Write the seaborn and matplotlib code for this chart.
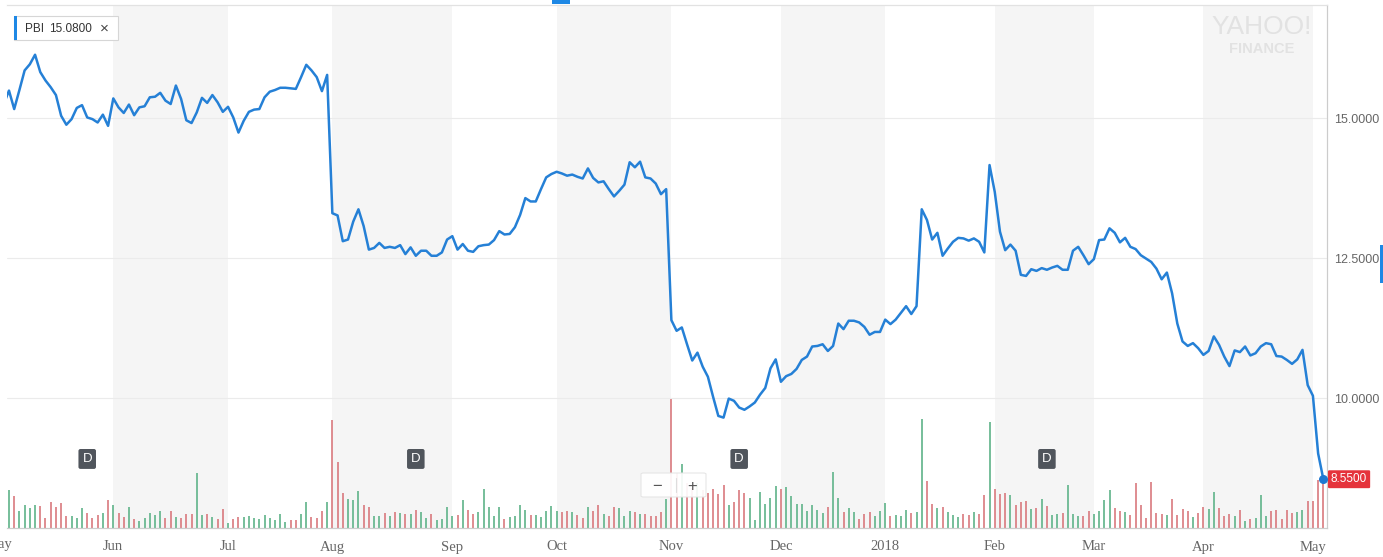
import numpy as np
import pandas as pd
import matplotlib
matplotlib.use("Agg")
import matplotlib.pyplot as plt
import matplotlib.transforms as mtransforms
from matplotlib.patches import Rectangle, FancyBboxPatch
import seaborn as sns

# --- daily closes, PBI, May 2017 -> May 2018 ---
may17 = [15.25, 15.49, 15.16, 15.50, 15.85, 15.96, 16.13, 15.82, 15.67, 15.55, 15.41,
         15.04, 14.88, 14.98, 15.18, 15.23, 15.01, 14.98, 14.92, 15.06, 14.86]
jun17 = [15.35, 15.19, 15.09, 15.24, 15.05, 15.19, 15.21, 15.37, 15.38, 15.45, 15.31,
         15.25, 15.58, 15.34, 14.96, 14.91, 15.10, 15.36, 15.27, 15.41, 15.28, 15.11]
jul17 = [15.20, 15.01, 14.74, 14.95, 15.11, 15.15, 15.16, 15.37, 15.47, 15.50,
         15.54, 15.54, 15.53, 15.52, 15.73, 15.95, 15.85, 15.73, 15.48, 15.77]
aug17 = [13.30, 13.26, 12.80, 12.83, 13.15, 13.37, 13.07, 12.65, 12.68, 12.77, 12.68, 12.70,
         12.68, 12.73, 12.57, 12.69, 12.54, 12.63, 12.63, 12.54, 12.54, 12.60, 12.83]
sep17 = [12.89, 12.65, 12.75, 12.63, 12.61, 12.71, 12.73, 12.74, 12.82, 12.98,
         12.92, 12.93, 13.05, 13.27, 13.57, 13.51, 13.51, 13.73, 13.94, 14.00]
oct17 = [14.04, 14.01, 13.97, 13.99, 13.95, 13.92, 14.10, 13.93, 13.85, 13.87, 13.73,
         13.60, 13.70, 13.81, 14.21, 14.12, 14.22, 13.94, 13.92, 13.83, 13.64, 13.73]
nov17 = [11.39, 11.20, 11.26, 10.96, 10.67, 10.81, 10.56, 10.38, 10.02, 9.68, 9.65,
         9.99, 9.95, 9.83, 9.79, 9.85, 9.92, 10.06, 10.18, 10.53, 10.69]
dec17 = [10.29, 10.39, 10.43, 10.52, 10.68, 10.74, 10.92, 10.93, 10.96, 10.84,
         10.93, 11.33, 11.23, 11.38, 11.38, 11.35, 11.27, 11.13, 11.18, 11.18]
jan18 = [11.40, 11.32, 11.40, 11.52, 11.64, 11.50, 11.64, 13.37, 13.18, 12.83, 12.95,
         12.54, 12.67, 12.79, 12.86, 12.85, 12.81, 12.85, 12.79, 12.60, 14.16]
feb18 = [13.68, 12.97, 12.64, 12.74, 12.63, 12.20, 12.18, 12.30, 12.27, 12.32,
         12.29, 12.33, 12.36, 12.29, 12.29, 12.63, 12.70, 12.55, 12.39]
mar18 = [12.48, 12.82, 12.83, 13.03, 12.95, 12.78, 12.86, 12.70, 12.66, 12.55, 12.49,
         12.43, 12.31, 12.12, 12.24, 11.87, 11.33, 11.01, 10.93, 10.98, 10.89]
apr18 = [10.77, 10.84, 11.10, 10.95, 10.74, 10.57, 10.85, 10.82, 10.92, 10.76, 10.80,
         10.92, 10.98, 10.96, 10.75, 10.74, 10.68, 10.61, 10.69, 10.86, 10.23]
may18 = [10.04, 9.01, 8.55]

# --- daily volume, millions of shares ---
vol_may17 = [2.5, 3.8, 3.2, 1.7, 2.3, 2.0, 2.3, 2.2, 1.0, 2.6, 2.1, 2.5, 1.2, 1.2, 1.0, 2.0,
             1.5, 1.0, 1.3, 1.5, 2.8]
vol_jun17 = [2.3, 1.5, 1.1, 2.1, 0.9, 0.7, 1.0, 1.5, 1.3, 1.7, 1.0, 1.7, 1.1, 1.0, 1.4, 1.4,
             5.5, 1.3, 1.4, 1.1, 0.9, 1.9]
vol_jul17 = [0.5, 0.9, 1.1, 1.1, 1.2, 1.0, 0.9, 1.3, 1.0, 0.8, 1.4, 0.6, 0.8, 0.8, 1.4, 2.6,
             1.1, 1.0, 1.7, 2.6]
vol_aug17 = [10.8, 6.6, 3.5, 2.9, 2.8, 3.7, 2.3, 2.1, 1.2, 1.2, 1.5, 1.2, 1.6, 1.5, 1.4, 1.4,
             1.8, 1.6, 1.0, 1.4, 0.8, 0.9, 2.1]
vol_sep17 = [1.2, 1.3, 2.8, 1.8, 1.4, 1.6, 3.9, 2.1, 1.2, 2.1, 0.9, 1.1, 1.2, 2.3, 1.8, 1.3,
             1.3, 1.1, 1.7, 2.2]
vol_oct17 = [1.7, 1.6, 1.7, 1.6, 1.3, 1.0, 2.1, 1.7, 2.3, 1.4, 1.2, 2.1, 2.0, 1.2, 1.7, 1.6,
             1.4, 1.4, 1.2, 1.2, 1.6, 2.9]
vol_nov17 = [12.9, 5.5, 6.4, 4.5, 4.0, 4.5, 3.8, 3.5, 3.9, 3.4, 4.3, 2.3, 2.6, 3.8, 3.5, 3.0,
             0.8, 3.6, 2.4, 3.0, 4.2]
vol_dec17 = [3.9, 4.1, 3.2, 2.4, 2.4, 1.7, 2.3, 1.8, 1.5, 2.1, 5.6, 3.0, 1.6, 2.0, 1.6, 0.9,
             1.4, 1.6, 1.2, 1.7]
vol_jan18 = [2.5, 1.2, 1.3, 1.2, 1.8, 1.5, 1.6, 10.9, 4.7, 2.4, 2.0, 2.1, 1.6, 1.3, 1.1, 1.4,
             1.3, 1.6, 1.4, 3.3, 10.6]
vol_feb18 = [3.9, 3.4, 3.5, 3.3, 2.3, 2.6, 2.7, 1.9, 2.0, 2.9, 2.2, 1.3, 1.4, 1.5, 4.3, 1.4,
             1.2, 1.2, 1.7]
vol_mar18 = [1.4, 1.7, 2.8, 3.8, 2.0, 1.7, 1.6, 1.3, 4.5, 2.3, 1.0, 4.6, 1.5, 1.4, 1.3, 2.9,
             1.3, 1.9, 1.7, 1.1, 1.5]
vol_apr18 = [2.1, 1.9, 3.6, 2.0, 1.2, 1.4, 1.2, 1.8, 0.7, 0.9, 1.0, 3.3, 1.2, 1.7, 1.8, 0.9,
             1.8, 1.5, 1.6, 1.8, 2.7]
vol_may18 = [2.7, 4.8, 5.2]

holidays = ["2017-05-29", "2017-07-04", "2017-09-04", "2017-11-23", "2017-12-25",
            "2018-01-01", "2018-01-15", "2018-02-19", "2018-03-30"]
dividend_dates = ["2017-05-24", "2017-08-23", "2017-11-20", "2018-02-15"]
ticker = "PBI"
legend_value = "15.0800"

price = np.array(may17 + jun17 + jul17 + aug17 + sep17 + oct17 + nov17 + dec17
                 + jan18 + feb18 + mar18 + apr18 + may18)
volume = np.array(vol_may17 + vol_jun17 + vol_jul17 + vol_aug17 + vol_sep17 + vol_oct17
                  + vol_nov17 + vol_dec17 + vol_jan18 + vol_feb18 + vol_mar18
                  + vol_apr18 + vol_may18)

dates = pd.bdate_range("2017-05-02", "2018-05-03")
dates = dates[~dates.isin(pd.to_datetime(holidays))]
df = pd.DataFrame({"date": dates, "close": price, "volume": volume})
df["pos"] = np.arange(len(df))
df["up"] = df["close"].diff().fillna(1) >= 0

# first trading day of each month (the chart is laid out by trading day)
grp = df.groupby([df.date.dt.year, df.date.dt.month])
month_start = grp["pos"].min().values
month_key = grp["date"].min()
month_labels = [d.strftime("%Y") if d.month == 1 else d.strftime("%b") for d in month_key]

# --- figure ---
sns.set_theme(style="white")
plt.rcParams["font.family"] = ["Liberation Sans", "DejaVu Sans"]
serif = ["Liberation Serif", "DejaVu Serif"]

W, H = 1383, 557
fig = plt.figure(figsize=(W / 100, H / 100), dpi=100)
left, right, top, bottom = 7, 1327, 5, 528
rect = [left / W, 1 - bottom / H, (right - left) / W, (bottom - top) / H]
ax_vol = fig.add_axes(rect)
ax = ax_vol.twinx()
ax.set_zorder(ax_vol.get_zorder() + 1)
ax.patch.set_visible(False)

x_lo, x_hi = 0.62, 253.7
ax_vol.set_xlim(x_lo, x_hi)

# alternating month bands
for i in range(1, len(month_start) - 1, 2):
    ax_vol.axvspan(month_start[i], month_start[i + 1], color="#f5f5f5", lw=0, zorder=0)

# volume bars
bar_colors = np.where(df["up"], "#5fb389", "#d9797e")
ax_vol.vlines(df["pos"], 0, df["volume"], colors=bar_colors, lw=1.2, zorder=2)
ax_vol.set_ylim(0, (bottom - top) / 10)
ax_vol.set_yticks([])

# price line
sns.lineplot(data=df, x="pos", y="close", ax=ax, color="#2580d6", lw=1.8, zorder=5)
ax.set_ylim(7.679, 17.018)
ax.set_yticks([10, 12.5, 15])
ax.set_yticklabels([f"{v:.4f}" for v in [10, 12.5, 15]])
ax.yaxis.tick_right()
ax.tick_params(axis="y", length=0, pad=5, labelsize=9, labelcolor="#666666")
for v in [10, 12.5, 15]:
    ax.axhline(v, color="#ebebeb", lw=0.8, zorder=1)
ax.set_xlabel("")
ax.set_ylabel("")

# x axis: month labels in serif (first month start is the first data day, not labelled)
ax_vol.set_xticks(month_start[1:])
ax_vol.set_xticklabels(month_labels[1:])
ax_vol.tick_params(axis="x", length=5, width=0.8, color="#cccccc", pad=4,
                   labelsize=10.5, labelcolor="#666666")
for t in ax_vol.get_xticklabels():
    t.set_family(serif)
trans_x = mtransforms.blended_transform_factory(ax_vol.transData, ax_vol.transAxes)
# the May 2017 label sits just left of the plot and is cut by the figure edge
ax_vol.text(month_start[0] - 1, -0.0325, month_labels[0], transform=trans_x, ha="center",
            va="center", fontsize=10.5, color="#666666", family=serif, clip_on=False)

for a in (ax, ax_vol):
    a.spines["left"].set_visible(False)
    a.spines["top"].set_color("#e2e2e2")
    a.spines["right"].set_color("#cccccc")
    a.spines["bottom"].set_color("#cccccc")
    for s in ("top", "right", "bottom"):
        a.spines[s].set_linewidth(0.8)

# dividend markers
div_pos = df.set_index("date").loc[pd.to_datetime(dividend_dates), "pos"].values
for p in div_pos:
    ax.text(p, 0.132, "D", transform=trans_x, ha="center", va="center", fontsize=9.5,
            color="white", zorder=6,
            bbox=dict(boxstyle="round,pad=0.3,rounding_size=0.15", fc="#50555c", ec="none"))

# last price marker and tag
last = df.iloc[-1]
ax.scatter([last.pos], [last.close], s=30, color="#1f78d1", zorder=7, clip_on=False)
trans_y = mtransforms.blended_transform_factory(ax.transAxes, ax.transData)
ax.text(1.003, last.close, f"{last.close:.4f}", transform=trans_y, ha="left", va="center",
        fontsize=8.5, color="white", zorder=8, clip_on=False,
        bbox=dict(boxstyle="round,pad=0.25,rounding_size=0.1", fc="#e5333b", ec="none"))

# watermark
fig.text(1262 / W, 1 - 27 / H, "YAHOO!", ha="center", va="center", fontsize=19,
         color="#e2e2e2", zorder=0)
fig.text(1262 / W, 1 - 49 / H, "FINANCE", ha="center", va="center", fontsize=10.5,
         color="#e2e2e2", weight="bold", zorder=0)

# legend chip
fig.patches.append(Rectangle((14 / W, 1 - 40 / H), 104 / W, 24 / H, transform=fig.transFigure,
                             fc="white", ec="#d6d6d6", lw=0.8, zorder=10))
fig.patches.append(Rectangle((14 / W, 1 - 40 / H), 3 / W, 24 / H, transform=fig.transFigure,
                             fc="#1e88e5", ec="none", zorder=11))
fig.text(25 / W, 1 - 28.5 / H, ticker, fontsize=8.5, color="#333333", va="center", zorder=12)
fig.text(49 / W, 1 - 28.5 / H, legend_value, fontsize=8.5, color="#333333", va="center",
         zorder=12)
fig.text(104 / W, 1 - 28.5 / H, "\u00d7", fontsize=11, color="#444444", va="center",
         ha="center", zorder=12)

# zoom control
fig.patches.append(FancyBboxPatch((641 / W, 1 - 497 / H), 65 / W, 24 / H,
                                  boxstyle="round,pad=0,rounding_size=0.002",
                                  transform=fig.transFigure, fc="white", ec="#e4e4e4",
                                  lw=0.8, alpha=0.92, zorder=10))
fig.text(657 / W, 1 - 486 / H, "\u2212", fontsize=12, color="#555555", ha="center",
         va="center", zorder=12)
fig.text(692 / W, 1 - 486 / H, "+", fontsize=12, color="#555555", ha="center",
         va="center", zorder=12)
fig.lines.append(plt.Line2D([676 / W, 676 / W], [1 - 492 / H, 1 - 478 / H],
                            transform=fig.transFigure, color="#dddddd", lw=0.8, zorder=12))

# scroll hints
fig.patches.append(Rectangle((552 / W, 1 - 4 / H), 18 / W, 4 / H, transform=fig.transFigure,
                             fc="#1e88e5", ec="none", zorder=10))
fig.patches.append(Rectangle((1380 / W, 1 - 283 / H), 3 / W, 38 / H, transform=fig.transFigure,
                             fc="#1e88e5", ec="none", zorder=10))

fig.savefig("out.png", dpi=100)
